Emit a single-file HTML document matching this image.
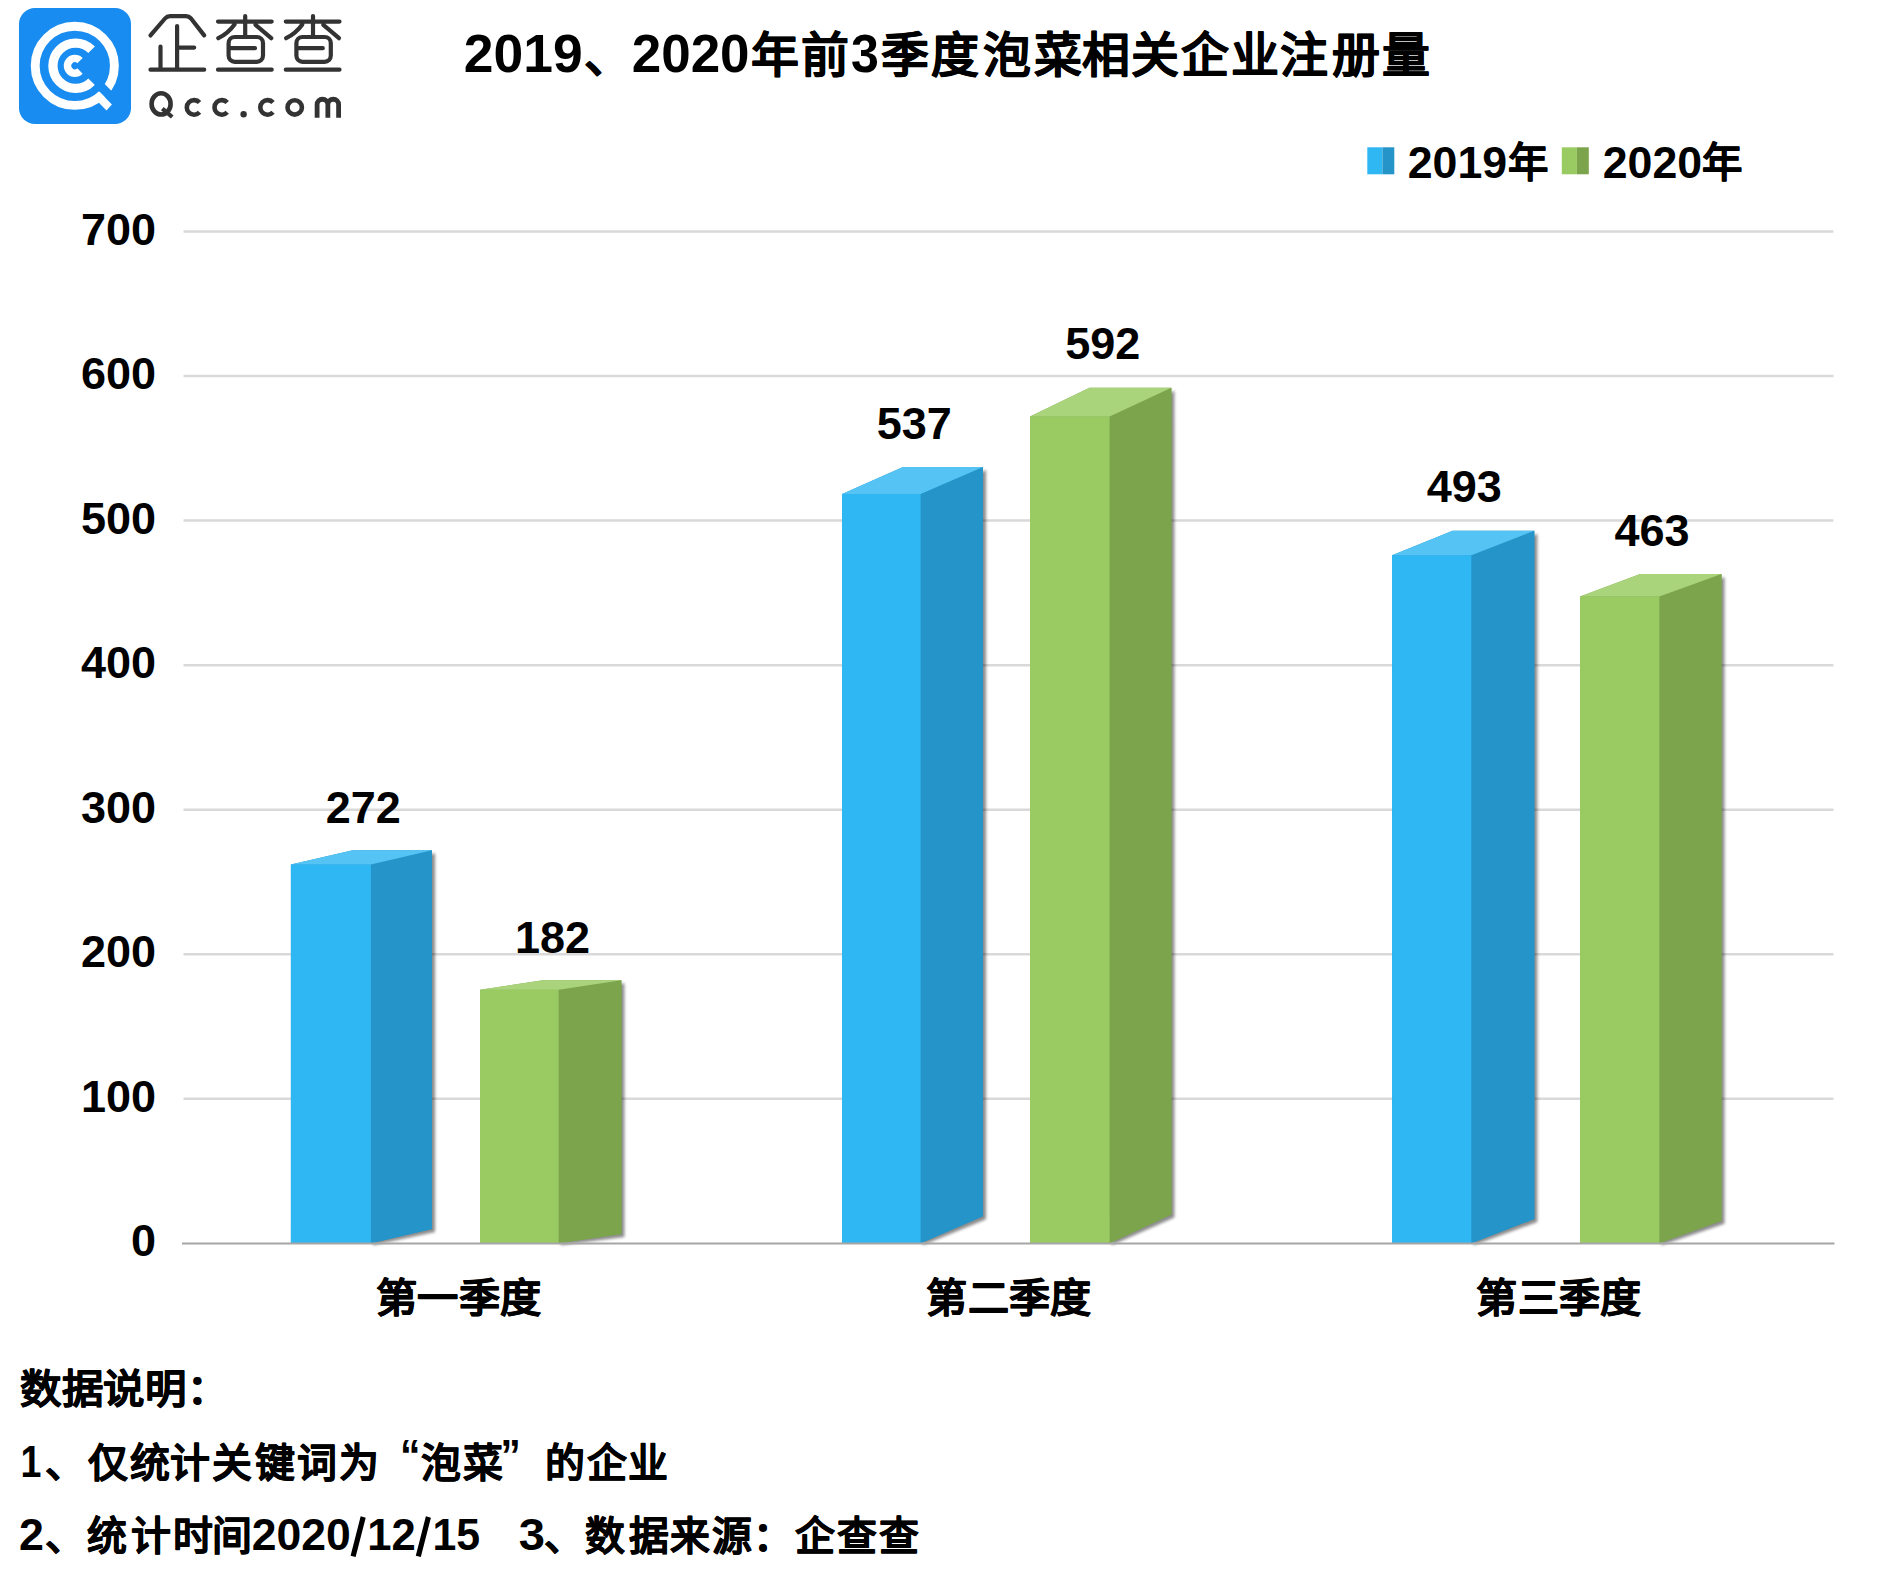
<!DOCTYPE html>
<html lang="zh-CN">
<head>
<meta charset="utf-8">
<style>
html,body{margin:0;padding:0;background:#fff;}
body{width:1897px;height:1576px;overflow:hidden;position:relative;font-family:"Liberation Sans",sans-serif;}
svg{position:absolute;left:0;top:0;}
text{font-family:"Liberation Sans",sans-serif;font-weight:bold;fill:#000;}
</style>
</head>
<body>
<svg width="1897" height="1576" viewBox="0 0 1897 1576">
<defs>
<filter id="sh" x="-30%" y="-10%" width="160%" height="130%"><feGaussianBlur stdDeviation="1.7"/></filter>
</defs>

<!-- ===== LOGO ===== -->
<g id="logo">
<rect x="19" y="8" width="112" height="116" rx="16" ry="16" fill="#188cf0"/>
<g fill="none" stroke="#fff">
<circle cx="74.8" cy="65.8" r="39.6" stroke-width="8.9"/>
<path d="M 91.6 49.8 A 22.65 22.65 0 1 0 91.6 81.8" stroke-width="9.3"/>
<path d="M 80 60.6 A 7.3 7.3 0 1 0 80 71" stroke-width="7.6"/>
</g>
<polygon points="93.96,86.24 107.4,99.67 113.83,93.24 100.4,79.8" fill="#188cf0"/>
<polygon points="99.7,92 111.9,104.5 106.5,110.6 94.3,98.1" fill="#fff"/>
</g>

<!-- logo text 企查查 -->
<g fill="none" stroke="#333" stroke-width="4.2" stroke-linecap="round" stroke-linejoin="round">
<path d="M150.5 35.4 L165 18.5 Q167 16.2 170 16.2 L186 16.2 Q189 16.2 191 18.5 L204.2 35.4"/>
<path d="M177.1 26 L177.1 69.7 M177.1 47.6 L194.2 47.6 M160.5 46.5 L160.5 69.7 M150.5 69.7 L204.2 69.7"/>
<g id="cha">
<path d="M218 21.6 L271.7 21.6 M245.2 16 L245.2 36.5 M234.5 24.5 Q228 33.5 218.3 38.2 M255.5 24.8 Q263 31 271.2 38.2"/>
<rect x="228.6" y="37" width="34.4" height="24.8" rx="6.2"/>
<path d="M230 48.2 L255 48.2 M218 69.7 L271.7 69.7"/>
</g>
<use href="#cha" x="67.8"/>
</g>

<!-- Qcc.com -->
<g fill="none" stroke="#333" stroke-width="4.6">
<ellipse cx="161.1" cy="103.9" rx="9.5" ry="10.6"/>
<path d="M162.3 108.6 L172.2 117" stroke-width="4.2"/>
<path d="M 199.52 102.52 A 7.3 7.3 0 1 0 199.52 112.28"/>
<path d="M 227.22 102.52 A 7.3 7.3 0 1 0 227.22 112.28"/>
<path d="M 273.02 102.52 A 7.3 7.3 0 1 0 273.02 112.28"/>
<circle cx="294.7" cy="107.4" r="7.2" stroke-width="4.6"/>
<path d="M317.1 117.7 V104.6 A5.375 5.375 0 0 1 327.85 104.6 V117.7 M327.85 104.6 A5.375 5.375 0 0 1 338.6 104.6 V117.7" stroke-width="4.8"/>
</g>
<circle cx="243.6" cy="114.2" r="3.2" fill="#333"/>


<!-- ===== LEGEND ===== -->
<polygon points="1367.3,147.3 1382.4,147.3 1382.4,174.3 1367.3,174.3" fill="#2fb7f3"/>
<polygon points="1382.4,147.3 1394.3,147.3 1394.3,174.3 1382.4,174.3" fill="#2594c8"/>
<polygon points="1561.8,147.3 1576.9,147.3 1576.9,174.3 1561.8,174.3" fill="#9acb62"/>
<polygon points="1576.9,147.3 1588.8,147.3 1588.8,174.3 1576.9,174.3" fill="#7ca44d"/>

<!-- ===== GRID ===== -->
<g stroke="#d9d9d9" stroke-width="2.5">
<line x1="183.5" y1="231.6" x2="1833.5" y2="231.6"/>
<line x1="183.5" y1="376.1" x2="1833.5" y2="376.1"/>
<line x1="183.5" y1="520.6" x2="1833.5" y2="520.6"/>
<line x1="183.5" y1="665.2" x2="1833.5" y2="665.2"/>
<line x1="183.5" y1="809.7" x2="1833.5" y2="809.7"/>
<line x1="183.5" y1="954.2" x2="1833.5" y2="954.2"/>
<line x1="183.5" y1="1098.8" x2="1833.5" y2="1098.8"/>
</g>

<!-- Y labels -->
<g text-anchor="end" font-size="45">
<text x="156" y="244.6">700</text>
<text x="156" y="389.1">600</text>
<text x="156" y="533.6">500</text>
<text x="156" y="678.2">400</text>
<text x="156" y="822.7">300</text>
<text x="156" y="967.2">200</text>
<text x="156" y="1111.8">100</text>
<text x="156" y="1256.3">0</text>
</g>

<!-- ===== BARS ===== -->
<g id="bars">
<polygon points="372.9,868.4 435.0,853.2 435.0,1232.1 372.9,1245.3" fill="#000" opacity="0.45" filter="url(#sh)"/>
<polygon points="290.9,864.4 352.7,850.2 432.0,850.2 432.0,1229.1 370.9,1243.3 290.9,1243.3" fill="#2594c8"/>
<polygon points="290.9,864.4 371.3,864.4 371.3,1243.3 290.9,1243.3" fill="#2fb7f3"/>
<polygon points="370.9,864.4 432.0,850.2 432.0,1229.1 370.9,1243.3" fill="#2594c8"/>
<polygon points="290.9,864.4 352.7,850.2 432.0,850.2 370.9,864.4" fill="#55c4f5"/>
<polygon points="560.6,993.7 624.4,983.3 624.4,1236.9 560.6,1245.3" fill="#000" opacity="0.45" filter="url(#sh)"/>
<polygon points="480.0,989.7 542.7,980.3 621.4,980.3 621.4,1233.9 558.6,1243.3 480.0,1243.3" fill="#7ca44d"/>
<polygon points="480.0,989.7 559.0,989.7 559.0,1243.3 480.0,1243.3" fill="#9acb62"/>
<polygon points="558.6,989.7 621.4,980.3 621.4,1233.9 558.6,1243.3" fill="#7ca44d"/>
<polygon points="480.0,989.7 542.7,980.3 621.4,980.3 558.6,989.7" fill="#aad47c"/>
<polygon points="922.6,498.0 986.0,470.0 986.0,1219.3 922.6,1245.3" fill="#000" opacity="0.45" filter="url(#sh)"/>
<polygon points="842.1,494.0 903.0,467.0 983.0,467.0 983.0,1216.3 920.6,1243.3 842.1,1243.3" fill="#2594c8"/>
<polygon points="842.1,494.0 921.0,494.0 921.0,1243.3 842.1,1243.3" fill="#2fb7f3"/>
<polygon points="920.6,494.0 983.0,467.0 983.0,1216.3 920.6,1243.3" fill="#2594c8"/>
<polygon points="842.1,494.0 903.0,467.0 983.0,467.0 920.6,494.0" fill="#55c4f5"/>
<polygon points="1111.6,420.6 1174.4,390.8 1174.4,1217.5 1111.6,1245.3" fill="#000" opacity="0.45" filter="url(#sh)"/>
<polygon points="1030.0,416.6 1089.5,387.8 1171.4,387.8 1171.4,1214.5 1109.6,1243.3 1030.0,1243.3" fill="#7ca44d"/>
<polygon points="1030.0,416.6 1110.0,416.6 1110.0,1243.3 1030.0,1243.3" fill="#9acb62"/>
<polygon points="1109.6,416.6 1171.4,387.8 1171.4,1214.5 1109.6,1243.3" fill="#7ca44d"/>
<polygon points="1030.0,416.6 1089.5,387.8 1171.4,387.8 1109.6,416.6" fill="#aad47c"/>
<polygon points="1473.4,559.2 1537.3,533.8 1537.3,1221.9 1473.4,1245.3" fill="#000" opacity="0.45" filter="url(#sh)"/>
<polygon points="1392.1,555.2 1452.6,530.8 1534.3,530.8 1534.3,1218.9 1471.4,1243.3 1392.1,1243.3" fill="#2594c8"/>
<polygon points="1392.1,555.2 1471.8,555.2 1471.8,1243.3 1392.1,1243.3" fill="#2fb7f3"/>
<polygon points="1471.4,555.2 1534.3,530.8 1534.3,1218.9 1471.4,1243.3" fill="#2594c8"/>
<polygon points="1392.1,555.2 1452.6,530.8 1534.3,530.8 1471.4,555.2" fill="#55c4f5"/>
<polygon points="1661.4,600.6 1724.5,577.1 1724.5,1223.8 1661.4,1245.3" fill="#000" opacity="0.45" filter="url(#sh)"/>
<polygon points="1580.0,596.6 1640.2,574.1 1721.5,574.1 1721.5,1220.8 1659.4,1243.3 1580.0,1243.3" fill="#7ca44d"/>
<polygon points="1580.0,596.6 1659.8,596.6 1659.8,1243.3 1580.0,1243.3" fill="#9acb62"/>
<polygon points="1659.4,596.6 1721.5,574.1 1721.5,1220.8 1659.4,1243.3" fill="#7ca44d"/>
<polygon points="1580.0,596.6 1640.2,574.1 1721.5,574.1 1659.4,596.6" fill="#aad47c"/>
</g>

<!-- axis -->
<line x1="182" y1="1243.5" x2="1834.5" y2="1243.5" stroke="#a6a6a6" stroke-width="2.2"/>

<!-- data labels -->
<g text-anchor="middle" font-size="45">
<text x="363.2" y="823.1">272</text>
<text x="552.5" y="952.7">182</text>
<text x="914.2" y="438.9">537</text>
<text x="1102.8" y="359">592</text>
<text x="1464.2" y="502.2">493</text>
<text x="1652" y="545.7">463</text>
</g>


<g id="texts">
<text x="463.8" y="72.4" font-size="53"  textLength="118.8" lengthAdjust="spacingAndGlyphs">2019</text>
<text x="583.7" y="72.4" font-size="47.9" stroke="#000" stroke-width="0.6" stroke-linejoin="round">、</text>
<text x="631.7" y="72.4" font-size="53"  textLength="117.9" lengthAdjust="spacingAndGlyphs">2020</text>
<text x="751.4" y="72.4" font-size="47.9" stroke="#000" stroke-width="0.6" stroke-linejoin="round">年</text>
<text x="801.2" y="72.4" font-size="47.9" stroke="#000" stroke-width="0.6" stroke-linejoin="round">前</text>
<text x="851.1" y="72.4" font-size="53"  textLength="27.9" lengthAdjust="spacingAndGlyphs">3</text>
<text x="881.1" y="72.4" font-size="47.9" stroke="#000" stroke-width="0.6" stroke-linejoin="round">季</text>
<text x="930.9" y="72.4" font-size="47.9" stroke="#000" stroke-width="0.6" stroke-linejoin="round">度</text>
<text x="983.2" y="72.4" font-size="47.9" stroke="#000" stroke-width="0.6" stroke-linejoin="round">泡</text>
<text x="1033.6" y="72.4" font-size="47.9" stroke="#000" stroke-width="0.6" stroke-linejoin="round">菜</text>
<text x="1082.3" y="72.4" font-size="47.9" stroke="#000" stroke-width="0.6" stroke-linejoin="round">相</text>
<text x="1131.4" y="72.4" font-size="47.9" stroke="#000" stroke-width="0.6" stroke-linejoin="round">关</text>
<text x="1181.2" y="72.4" font-size="47.9" stroke="#000" stroke-width="0.6" stroke-linejoin="round">企</text>
<text x="1230.6" y="72.4" font-size="47.9" stroke="#000" stroke-width="0.6" stroke-linejoin="round">业</text>
<text x="1280.3" y="72.4" font-size="47.9" stroke="#000" stroke-width="0.6" stroke-linejoin="round">注</text>
<text x="1331.7" y="72.4" font-size="47.9" stroke="#000" stroke-width="0.6" stroke-linejoin="round">册</text>
<text x="1381.8" y="72.4" font-size="47.9" stroke="#000" stroke-width="0.6" stroke-linejoin="round">量</text>
<text x="1407.7" y="177.6" font-size="45"  textLength="99.4" lengthAdjust="spacingAndGlyphs">2019</text>
<text x="1507.8" y="176.6" font-size="40.4" stroke="#000" stroke-width="0.6" stroke-linejoin="round">年</text>
<text x="1602.7" y="177.6" font-size="45"  textLength="99.4" lengthAdjust="spacingAndGlyphs">2020</text>
<text x="1702.0" y="176.6" font-size="40.4" stroke="#000" stroke-width="0.6" stroke-linejoin="round">年</text>
<text x="375.9" y="1311.8" font-size="39.9" stroke="#000" stroke-width="0.6" stroke-linejoin="round" textLength="165.5" lengthAdjust="spacingAndGlyphs">第一季度</text>
<text x="926.3" y="1311.8" font-size="39.9" stroke="#000" stroke-width="0.6" stroke-linejoin="round" textLength="165.0" lengthAdjust="spacingAndGlyphs">第二季度</text>
<text x="1476.3" y="1311.8" font-size="39.9" stroke="#000" stroke-width="0.6" stroke-linejoin="round" textLength="165.0" lengthAdjust="spacingAndGlyphs">第三季度</text>
<text x="20.2" y="1403.3" font-size="39.9" stroke="#000" stroke-width="0.6" stroke-linejoin="round" textLength="208.0" lengthAdjust="spacingAndGlyphs">数据说明：</text>
<text x="20.4" y="1477" font-size="45"  textLength="20.9" lengthAdjust="spacingAndGlyphs">1</text>
<text x="45.0" y="1477" font-size="39.9" stroke="#000" stroke-width="0.6" stroke-linejoin="round">、</text>
<text x="87.5" y="1477" font-size="39.9" stroke="#000" stroke-width="0.6" stroke-linejoin="round">仅</text>
<text x="129.9" y="1477" font-size="39.9" stroke="#000" stroke-width="0.6" stroke-linejoin="round">统</text>
<text x="170.4" y="1477" font-size="39.9" stroke="#000" stroke-width="0.6" stroke-linejoin="round">计</text>
<text x="212.0" y="1477" font-size="39.9" stroke="#000" stroke-width="0.6" stroke-linejoin="round">关</text>
<text x="254.5" y="1477" font-size="39.9" stroke="#000" stroke-width="0.6" stroke-linejoin="round">键</text>
<text x="296.8" y="1477" font-size="39.9" stroke="#000" stroke-width="0.6" stroke-linejoin="round">词</text>
<text x="339.3" y="1477" font-size="39.9" stroke="#000" stroke-width="0.6" stroke-linejoin="round">为</text>
<text x="399.9" y="1470.8" font-size="44"  textLength="20.4" lengthAdjust="spacingAndGlyphs">“</text>
<text x="421.1" y="1477" font-size="39.9" stroke="#000" stroke-width="0.6" stroke-linejoin="round">泡</text>
<text x="462.7" y="1477" font-size="39.9" stroke="#000" stroke-width="0.6" stroke-linejoin="round">菜</text>
<text x="500.5" y="1470.8" font-size="44"  textLength="20.2" lengthAdjust="spacingAndGlyphs">”</text>
<text x="544.6" y="1477" font-size="39.9" stroke="#000" stroke-width="0.6" stroke-linejoin="round">的</text>
<text x="587.2" y="1477" font-size="39.9" stroke="#000" stroke-width="0.6" stroke-linejoin="round">企</text>
<text x="627.7" y="1477" font-size="39.9" stroke="#000" stroke-width="0.6" stroke-linejoin="round">业</text>
<text x="19.0" y="1549.9" font-size="45"  textLength="24.9" lengthAdjust="spacingAndGlyphs">2</text>
<text x="45.0" y="1549.9" font-size="39.9" stroke="#000" stroke-width="0.6" stroke-linejoin="round">、</text>
<text x="86.8" y="1549.9" font-size="39.9" stroke="#000" stroke-width="0.6" stroke-linejoin="round">统</text>
<text x="130.5" y="1549.9" font-size="39.9" stroke="#000" stroke-width="0.6" stroke-linejoin="round">计</text>
<text x="172.5" y="1549.9" font-size="39.9" stroke="#000" stroke-width="0.6" stroke-linejoin="round">时</text>
<text x="212.0" y="1549.9" font-size="39.9" stroke="#000" stroke-width="0.6" stroke-linejoin="round">间</text>
<text x="251.8" y="1549.9" font-size="45"  textLength="99.0" lengthAdjust="spacingAndGlyphs">2020</text>
<text x="367.3" y="1549.9" font-size="45"  textLength="48.5" lengthAdjust="spacingAndGlyphs">12</text>
<text x="432.4" y="1549.9" font-size="45"  textLength="47.6" lengthAdjust="spacingAndGlyphs">15</text>
<text x="518.7" y="1549.9" font-size="45"  textLength="26.2" lengthAdjust="spacingAndGlyphs">3</text>
<text x="544.2" y="1549.9" font-size="39.9" stroke="#000" stroke-width="0.6" stroke-linejoin="round">、</text>
<text x="585.4" y="1549.9" font-size="39.9" stroke="#000" stroke-width="0.6" stroke-linejoin="round">数</text>
<text x="628.8" y="1549.9" font-size="39.9" stroke="#000" stroke-width="0.6" stroke-linejoin="round">据</text>
<text x="670.0" y="1549.9" font-size="39.9" stroke="#000" stroke-width="0.6" stroke-linejoin="round">来</text>
<text x="711.5" y="1549.9" font-size="39.9" stroke="#000" stroke-width="0.6" stroke-linejoin="round">源</text>
<text x="752.6" y="1549.9" font-size="39.9" stroke="#000" stroke-width="0.6" stroke-linejoin="round">：</text>
<text x="794.9" y="1549.9" font-size="39.9" stroke="#000" stroke-width="0.6" stroke-linejoin="round">企</text>
<text x="837.4" y="1549.9" font-size="39.9" stroke="#000" stroke-width="0.6" stroke-linejoin="round">查</text>
<text x="878.6" y="1549.9" font-size="39.9" stroke="#000" stroke-width="0.6" stroke-linejoin="round">查</text>
<path d="M363.2 1517 L353.1 1556.4 M428.4 1517 L418.3 1556.4" stroke="#000" stroke-width="5.2"/>
</g>
</svg>
</body>
</html>
